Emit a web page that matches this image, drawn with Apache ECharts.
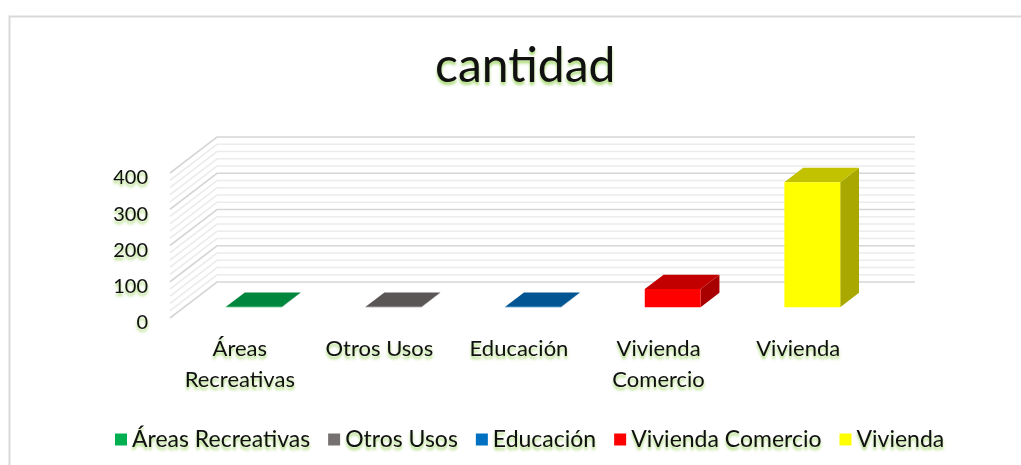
<!DOCTYPE html>
<html>
<head>
<meta charset="utf-8">
<script src="https://cdn.jsdelivr.net/npm/echarts@6/dist/echarts.min.js"></script>
<style>
    html, body { margin: 0; padding: 0; background: #fff; }
    #main { width: 1021px; height: 465px; }
</style>
</head>
<body>
<div id="main"></div>
<script>
// datos del gráfico
const categories = ['Áreas Recreativas', 'Otros Usos', 'Educación', 'Vivienda Comercio', 'Vivienda'];
const axisNames = ['Áreas\nRecreativas', 'Otros Usos', 'Educación', 'Vivienda\nComercio', 'Vivienda'];
const values = [1, 1, 1, 50, 345];
const yTicks = [0, 100, 200, 300, 400];
const gridValues = [0, 20, 40, 60, 80, 100, 120, 140, 160, 180, 200, 220, 240, 260, 280, 300, 320, 340, 360, 380, 400];

const palette = ['#00B050', '#767171', '#0070C0', '#FF0000', '#FFFF00'];
const DX = 47, DY = -36; // profundidad 3D
const glow = {
    textShadowColor: 'rgba(146, 208, 80, 0.8)',
    textShadowBlur: 3,
    textShadowOffsetY: 3
};

function shade(hex, k) {
    let n = parseInt(hex.slice(1), 16);
    let r = Math.round(((n >> 16) & 255) * k),
        g = Math.round(((n >> 8) & 255) * k),
        b = Math.round((n & 255) * k);
    return 'rgb(' + r + ',' + g + ',' + b + ')';
}

let myChart = echarts.init(document.getElementById('main'));

// paredes (fondo y lateral)
let wallSeries = {
    type: 'custom',
    name: 'walls',
    silent: true,
    z: 1,
    data: gridValues.map(function(v) { return [0, v]; }),
    renderItem: function(params, api) {
        let cs = params.coordSys;
        let v = api.value(1);
        let y = api.coord([0, v])[1];
        let x0 = cs.x, x1 = cs.x + cs.width;
        let major = yTicks.indexOf(v) >= 0;
        return {
            type: 'polyline',
            shape: { points: [[x0, y], [x0 + DX, y + DY], [x1 + DX, y + DY]] },
            style: {
                fill: 'none',
                stroke: major ? '#d6d6d6' : '#ececec',
                lineWidth: 1.6
            }
        };
    }
};

// barras 3D
function barSeries(i) {
    return {
        type: 'custom',
        name: categories[i],
        z: 3,
        itemStyle: { color: palette[i] },
        data: [[i, values[i]]],
        renderItem: function(params, api) {
            let color = palette[i];
            let base = api.coord([api.value(0), 0]);
            let top = api.coord([api.value(0), api.value(1)]);
            let band = api.size([1, 0])[0];
            let w = band * 0.4;
            let ox = DX * 0.3, oy = DY * 0.3;
            let ddx = DX * 0.4, ddy = DY * 0.4;
            let xl = base[0] - w / 2 + ox, xr = xl + w;
            let yb = base[1] + oy, yt = top[1] + oy;
            return {
                type: 'group',
                children: [{
                    type: 'polygon',
                    shape: { points: [[xr, yb], [xr + ddx, yb + ddy], [xr + ddx, yt + ddy], [xr, yt]] },
                    style: { fill: shade(color, 0.66) }
                }, {
                    type: 'polygon',
                    shape: { points: [[xl, yt], [xr, yt], [xr + ddx, yt + ddy], [xl + ddx, yt + ddy]] },
                    style: { fill: shade(color, 0.76) }
                }, {
                    type: 'rect',
                    shape: { x: xl, y: yt, width: w, height: yb - yt },
                    style: { fill: color }
                }]
            };
        }
    };
}

let series = [wallSeries];
categories.forEach(function(c, i) {
    series.push(barSeries(i));
});

let option = {
    animation: false,
    textStyle: { fontFamily: 'Lato' },
    title: {
        text: 'cantidad',
        left: 430,
        top: 38,
        textStyle: Object.assign({
            fontFamily: 'Lato',
            fontSize: 48,
            fontWeight: 'normal',
            color: '#111'
        }, glow)
    },
    legend: {
        data: categories,
        bottom: 9,
        left: 110,
        icon: 'rect',
        itemWidth: 12,
        itemHeight: 12,
        itemGap: 18,
        textStyle: Object.assign({
            fontFamily: 'Lato',
            fontSize: 23,
            color: '#111'
        }, glow)
    },
    grid: {
        left: 170,
        right: 153,
        top: 173,
        bottom: 147
    },
    xAxis: {
        type: 'category',
        data: axisNames,
        axisLine: { show: false },
        axisTick: { show: false },
        axisLabel: Object.assign({
            margin: 15,
            fontFamily: 'Lato',
            fontSize: 22,
            lineHeight: 31,
            color: '#111',
            interval: 0
        }, glow)
    },
    yAxis: {
        type: 'value',
        min: 0,
        max: 400,
        interval: 100,
        axisLine: { show: false },
        axisTick: { show: false },
        splitLine: { show: false },
        axisLabel: Object.assign({
            margin: 22,
            verticalAlign: 'top',
            lineHeight: 10,
            fontFamily: 'Lato',
            fontSize: 20,
            color: '#111'
        }, glow)
    },
    graphic: [{
        type: 'rect',
        left: 7,
        top: 14,
        shape: { width: 1100, height: 500 },
        style: { fill: 'none', stroke: '#d9d9d9', lineWidth: 2 },
        silent: true
    }],
    series: series
};

myChart.setOption(option);
</script>
</body>
</html>
